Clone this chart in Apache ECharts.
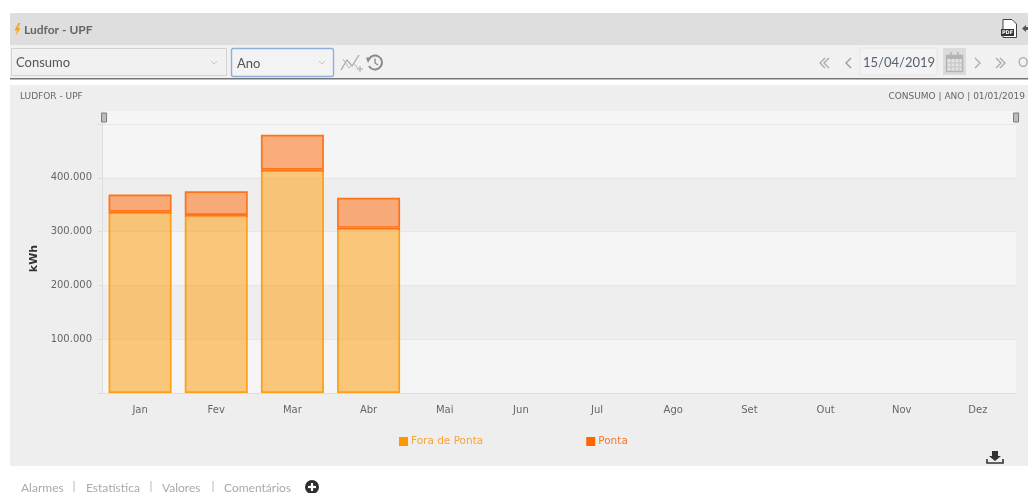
<!DOCTYPE html>
<html>
<head>
<meta charset="utf-8">
<style>html,body{margin:0;padding:0;background:#fff;overflow:hidden}#c{width:1028px;height:493px}</style>
<script src="https://cdn.jsdelivr.net/npm/echarts@6/dist/echarts.min.js"></script>
</head>
<body>
<div id="c"></div>
<script>
const months = ['Jan','Fev','Mar','Abr','Mai','Jun','Jul','Ago','Set','Out','Nov','Dez'];
const foraDePonta = [337000,331000,415000,307000,null,null,null,null,null,null,null,null];
const ponta = [32000,44000,65000,56000,null,null,null,null,null,null,null,null];
const seriesNames = ['Fora de Ponta','Ponta'];
const yAxisName = 'kWh';

const UI = 'Lato, "Open Sans", sans-serif';
const CH = '"DejaVu Sans", sans-serif';
const rect = (x,y,w,h,fill,stroke,lw,r,z)=>({type:'rect',z:z||-10,shape:{x,y,width:w,height:h,r:r||0},style:{fill,stroke:stroke||null,lineWidth:lw||0}});
const text = (x,y,t,size,fill,font,align,weight)=>({type:'text',z:-3,x,y,style:{text:t,fontSize:size,fill,fontFamily:font||UI,align:align||'left',verticalAlign:'middle',fontWeight:weight||'normal'}});
const line = (pts,stroke,lw)=>({type:'polyline',z:-5,shape:{points:pts},style:{fill:null,stroke,lineWidth:lw||1}});
const poly = (pts,fill)=>({type:'polygon',z:-6,shape:{points:pts},style:{fill}});
const chevron = (x,y,dir,c,s)=>line([[x,y-s],[x+dir*s,y],[x,y+s]],c,1.3);

const chrome = [
  rect(10,13,1018,32,'#dedede'),
  rect(10,45,1018,33,'#f1f1f1'),
  rect(10,78,1018,1.5,'#777777'),
  rect(10,85,1018,381,'#eeeeee'),
  poly([[18.5,23],[14.5,30.5],[17,30.5],[15.5,36],[20.5,28],[18,28],[20.5,23]],'#f5a623'),
  text(24,30.5,'Ludfor - UPF',12,'#666666',UI,'left','bold'),
  rect(11.5,48.5,215,27,'#f1f1f1','#d2d2d2',1),
  text(16,63,'Consumo',13,'#555555'),
  line([[211,61],[214,64],[217,61]],'#c4c4c4',1),
  rect(231.5,48.5,102,28,'#f3f3f3','#8fb0dc',1.4,2),
  text(237,63.5,'Ano',13,'#555555'),
  line([[319,61],[322,64],[325,61]],'#c4c4c4',1),
  line([[341,70],[347,60],[352,66],[359,55]],'#a8a8a8',1.3),
  line([[343,59],[349,68],[354,63],[358,69]],'#b8b8b8',1),
  line([[360,66],[360,72]],'#a8a8a8',1),line([[357,69],[363,69]],'#a8a8a8',1),
  {type:'arc',z:-5,shape:{cx:375,cy:62.5,r:7,startAngle:-2.6,endAngle:2.6,clockwise:true},style:{fill:null,stroke:'#888888',lineWidth:1.9}},
  poly([[366,57.5],[371,57.5],[368,63]],'#888888'),
  line([[375,58.5],[375,63],[378,65]],'#888888',1.3),
  chevron(825,63,-1,'#aaaaaa',5), chevron(829,63,-1,'#aaaaaa',5),
  chevron(851,63,-1,'#999999',5),
  rect(860,48,77,27,'#f3f3f3','#e6e6e6',1),
  text(863,63,'15/04/2019',13,'#566070'),
  rect(943,48,23,27,'#dcdcdc'),
  rect(946.5,55.5,16,16,'#e2e2e2','#b4b4b4',1.5),
  rect(946,55,17,4,'#b4b4b4'),
  line([[951,52],[951,57]],'#b4b4b4',1.5),line([[958,52],[958,57]],'#b4b4b4',1.5),
  line([[947,63],[962,63]],'#c4c4c4',1),line([[947,67],[962,67]],'#c4c4c4',1),
  line([[951,59],[951,71]],'#c4c4c4',1),line([[955,59],[955,71]],'#c4c4c4',1),line([[959,59],[959,71]],'#c4c4c4',1),
  chevron(975,63,1,'#aaaaaa',5),
  chevron(996,63,1,'#aaaaaa',5), chevron(1000,63,1,'#aaaaaa',5),
  text(1018,63,'O',13,'#aaaaaa'),
  poly([[1003,19.5],[1012,19.5],[1016.5,24],[1016.5,37.5],[1003,37.5]],'#ffffff'),
  line([[1003,29],[1003,19.5],[1012,19.5],[1016.5,24],[1016.5,37.5],[1003,37.5],[1003,35]],'#444444',1),
  rect(1001,29,13,7,'#333333',null,0,0,-4),
  text(1007.5,32.7,'PDF',5,'#ffffff',CH,'center','bold'),
  poly([[1022,28.5],[1026,25],[1026,27],[1028,27],[1028,30],[1026,30],[1026,32]],'#555555'),
  text(20,96.5,'LUDFOR - UPF',9,'#666666',CH),
  text(1025,96.5,'CONSUMO | ANO | 01/01/2019',9,'#666666',CH,'right'),
  poly([[992,451],[998,451],[998,456],[1001,456],[995,461],[989,456],[992,456]],'#333333'),
  line([[987,459],[987,463],[1003,463],[1003,459]],'#333333',1.6),
  text(21,488,'Alarmes',12,'#aaaaaa'),
  line([[74,481],[74,492]],'#bbbbbb',1),
  text(86,488,'Estatística',12,'#aaaaaa'),
  line([[151,481],[151,492]],'#bbbbbb',1),
  text(162,488,'Valores',12,'#aaaaaa'),
  line([[213,481],[213,492]],'#bbbbbb',1),
  text(224,488,'Comentários',12,'#aaaaaa'),
  {type:'circle',z:-6,shape:{cx:312,cy:487,r:7},style:{fill:'#2f2f2f'}},
  line([[312,483],[312,491]],'#ffffff',2.2),line([[308,487],[316,487]],'#ffffff',2.2)
];

const chart = echarts.init(document.getElementById('c'),null,{renderer:'canvas'});
chart.setOption({
  animation:false,
  backgroundColor:'#ffffff',
  graphic:{elements:chrome},
  grid:{left:102,right:12,top:124,bottom:100},
  legend:{
    left:394,top:431,itemWidth:9,itemHeight:9,itemGap:103,icon:'rect',
    data:[
      {name:seriesNames[0],textStyle:{color:'#f7a33a'},itemStyle:{color:'#ff9800',borderWidth:0}},
      {name:seriesNames[1],textStyle:{color:'#f5762a'},itemStyle:{color:'#ff6600',borderWidth:0}}
    ],
    textStyle:{fontFamily:CH,fontSize:10.5,padding:[0,0,0,-2]}
  },
  dataZoom:[{
    type:'slider',xAxisIndex:0,start:0,end:100,top:111,height:13,left:102,right:12,
    showDetail:false,brushSelect:false,showDataShadow:false,
    backgroundColor:'#f5f5f5',borderColor:'transparent',fillerColor:'rgba(0,0,0,0)',
    handleIcon:'path://M0,0H5V9H0Z',handleSize:9,
    handleStyle:{color:'#bdbdbd',borderColor:'#7a7a7a',borderWidth:1},
    moveHandleSize:0
  }],
  xAxis:{
    type:'category',data:months,
    axisLine:{lineStyle:{color:'#dddddd'}},
    axisTick:{alignWithLabel:true,length:4,lineStyle:{color:'#dddddd'}},
    axisLabel:{color:'#666666',fontFamily:CH,fontSize:10,margin:12,interval:0}
  },
  yAxis:{
    type:'value',min:0,max:500000,interval:100000,
    name:yAxisName,nameLocation:'middle',nameGap:52,
    nameTextStyle:{color:'#333333',fontFamily:CH,fontSize:11,fontWeight:'bold'},
    axisLine:{show:true,lineStyle:{color:'#dddddd'}},
    axisTick:{show:true,length:4,lineStyle:{color:'#dddddd'}},
    axisLabel:{
      color:'#666666',fontFamily:CH,fontSize:10,margin:10,
      formatter:v=>(v===0||v===500000)?'':String(v).replace(/\B(?=(\d{3})+$)/g,'.')
    },
    splitLine:{show:true,lineStyle:{color:'#e6e6e6'}},
    splitArea:{show:true,areaStyle:{color:['#f5f5f5','#eeeeee']}}
  },
  series:[
    {name:seriesNames[0],type:'bar',stack:'t',barWidth:63,data:foraDePonta,
     itemStyle:{color:'rgba(255,152,0,0.5)',borderWidth:1.7,
       borderColor:{type:'linear',x:0,y:0,x2:0,y2:1,colorStops:[
         {offset:0,color:'#ff7216'},{offset:0.012,color:'#ff7216'},
         {offset:0.012,color:'#ff9e14'},{offset:1,color:'#ff9e14'}]}}},
    {name:seriesNames[1],type:'bar',stack:'t',barWidth:63,data:ponta,
     itemStyle:{color:'rgba(255,102,0,0.5)',borderColor:'#ff7216',borderWidth:1.7}}
  ],
  color:['#ff9800','#ff6600']
});
</script>
</body>
</html>
